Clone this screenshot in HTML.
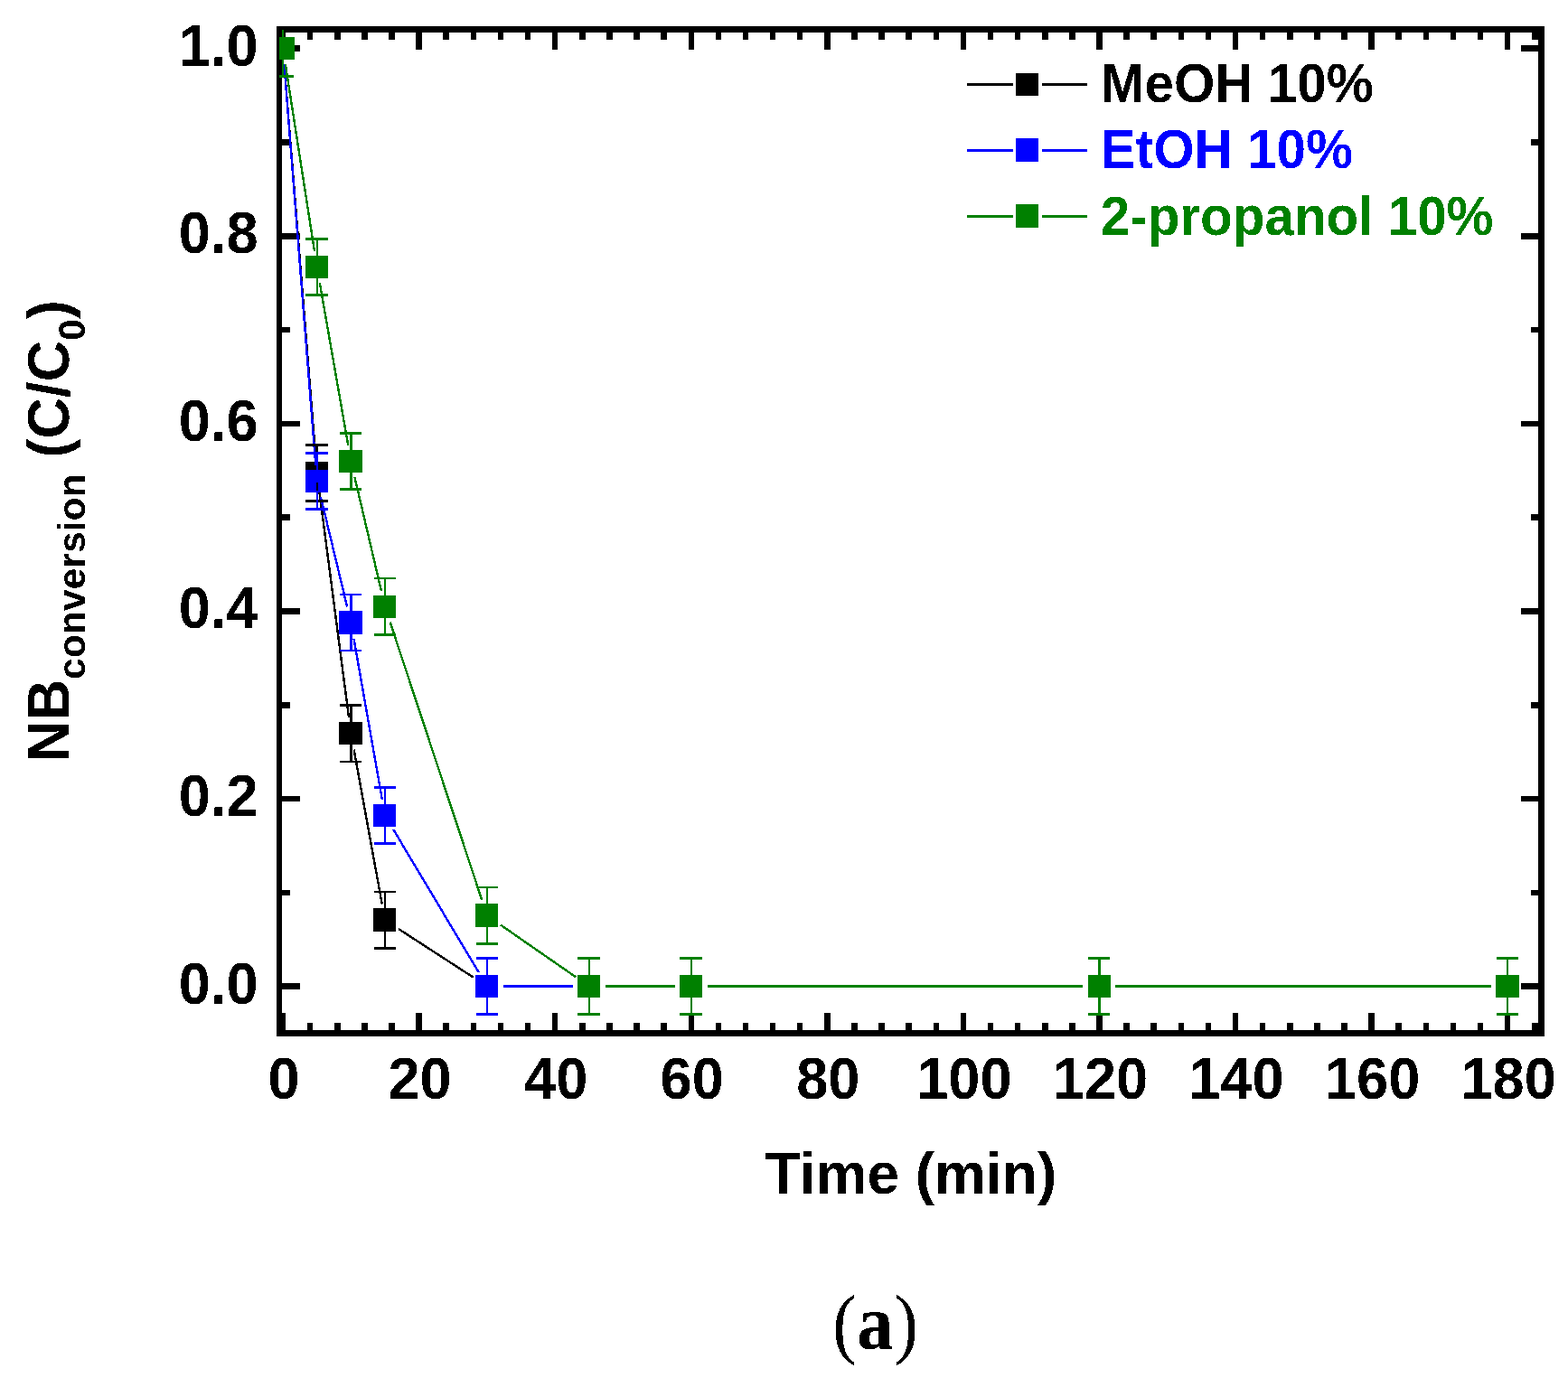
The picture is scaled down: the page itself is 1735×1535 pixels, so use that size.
<!DOCTYPE html>
<html lang="en">
<head>
<meta charset="utf-8">
<title>NB conversion vs time</title>
<style>
html,body{margin:0;padding:0;background:#fff;}
body{width:1735px;height:1535px;overflow:hidden;}
svg{display:block;}
text{white-space:pre;}
</style>
</head>
<body>
<svg width="1735" height="1535" viewBox="0 0 1735 1535">
<rect x="0" y="0" width="1735" height="1535" fill="#ffffff"/>
<g id="axes" shape-rendering="crispEdges">
<rect x="306" y="29" width="6" height="1118" fill="#000"/>
<rect x="1702" y="29" width="7" height="1118" fill="#000"/>
<rect x="306" y="29" width="1403" height="7" fill="#000"/>
<rect x="306" y="1140" width="1403" height="7" fill="#000"/>
<rect x="310" y="1121" width="6" height="19" fill="#000"/>
<rect x="310" y="36" width="6" height="19" fill="#000"/>
<rect x="340" y="1132" width="6" height="8" fill="#000"/>
<rect x="340" y="36" width="6" height="8" fill="#000"/>
<rect x="370" y="1132" width="7" height="8" fill="#000"/>
<rect x="370" y="36" width="7" height="8" fill="#000"/>
<rect x="400" y="1132" width="7" height="8" fill="#000"/>
<rect x="400" y="36" width="7" height="8" fill="#000"/>
<rect x="430" y="1132" width="7" height="8" fill="#000"/>
<rect x="430" y="36" width="7" height="8" fill="#000"/>
<rect x="460" y="1121" width="7" height="19" fill="#000"/>
<rect x="460" y="36" width="7" height="19" fill="#000"/>
<rect x="490" y="1132" width="7" height="8" fill="#000"/>
<rect x="490" y="36" width="7" height="8" fill="#000"/>
<rect x="521" y="1132" width="6" height="8" fill="#000"/>
<rect x="521" y="36" width="6" height="8" fill="#000"/>
<rect x="551" y="1132" width="6" height="8" fill="#000"/>
<rect x="551" y="36" width="6" height="8" fill="#000"/>
<rect x="581" y="1132" width="6" height="8" fill="#000"/>
<rect x="581" y="36" width="6" height="8" fill="#000"/>
<rect x="611" y="1121" width="6" height="19" fill="#000"/>
<rect x="611" y="36" width="6" height="19" fill="#000"/>
<rect x="641" y="1132" width="7" height="8" fill="#000"/>
<rect x="641" y="36" width="7" height="8" fill="#000"/>
<rect x="671" y="1132" width="7" height="8" fill="#000"/>
<rect x="671" y="36" width="7" height="8" fill="#000"/>
<rect x="701" y="1132" width="7" height="8" fill="#000"/>
<rect x="701" y="36" width="7" height="8" fill="#000"/>
<rect x="731" y="1132" width="7" height="8" fill="#000"/>
<rect x="731" y="36" width="7" height="8" fill="#000"/>
<rect x="762" y="1121" width="6" height="19" fill="#000"/>
<rect x="762" y="36" width="6" height="19" fill="#000"/>
<rect x="792" y="1132" width="6" height="8" fill="#000"/>
<rect x="792" y="36" width="6" height="8" fill="#000"/>
<rect x="822" y="1132" width="6" height="8" fill="#000"/>
<rect x="822" y="36" width="6" height="8" fill="#000"/>
<rect x="852" y="1132" width="6" height="8" fill="#000"/>
<rect x="852" y="36" width="6" height="8" fill="#000"/>
<rect x="882" y="1132" width="6" height="8" fill="#000"/>
<rect x="882" y="36" width="6" height="8" fill="#000"/>
<rect x="912" y="1121" width="7" height="19" fill="#000"/>
<rect x="912" y="36" width="7" height="19" fill="#000"/>
<rect x="942" y="1132" width="7" height="8" fill="#000"/>
<rect x="942" y="36" width="7" height="8" fill="#000"/>
<rect x="972" y="1132" width="7" height="8" fill="#000"/>
<rect x="972" y="36" width="7" height="8" fill="#000"/>
<rect x="1002" y="1132" width="7" height="8" fill="#000"/>
<rect x="1002" y="36" width="7" height="8" fill="#000"/>
<rect x="1033" y="1132" width="6" height="8" fill="#000"/>
<rect x="1033" y="36" width="6" height="8" fill="#000"/>
<rect x="1063" y="1121" width="6" height="19" fill="#000"/>
<rect x="1063" y="36" width="6" height="19" fill="#000"/>
<rect x="1093" y="1132" width="6" height="8" fill="#000"/>
<rect x="1093" y="36" width="6" height="8" fill="#000"/>
<rect x="1123" y="1132" width="6" height="8" fill="#000"/>
<rect x="1123" y="36" width="6" height="8" fill="#000"/>
<rect x="1153" y="1132" width="7" height="8" fill="#000"/>
<rect x="1153" y="36" width="7" height="8" fill="#000"/>
<rect x="1183" y="1132" width="7" height="8" fill="#000"/>
<rect x="1183" y="36" width="7" height="8" fill="#000"/>
<rect x="1213" y="1121" width="7" height="19" fill="#000"/>
<rect x="1213" y="36" width="7" height="19" fill="#000"/>
<rect x="1243" y="1132" width="7" height="8" fill="#000"/>
<rect x="1243" y="36" width="7" height="8" fill="#000"/>
<rect x="1273" y="1132" width="7" height="8" fill="#000"/>
<rect x="1273" y="36" width="7" height="8" fill="#000"/>
<rect x="1304" y="1132" width="6" height="8" fill="#000"/>
<rect x="1304" y="36" width="6" height="8" fill="#000"/>
<rect x="1334" y="1132" width="6" height="8" fill="#000"/>
<rect x="1334" y="36" width="6" height="8" fill="#000"/>
<rect x="1364" y="1121" width="6" height="19" fill="#000"/>
<rect x="1364" y="36" width="6" height="19" fill="#000"/>
<rect x="1394" y="1132" width="6" height="8" fill="#000"/>
<rect x="1394" y="36" width="6" height="8" fill="#000"/>
<rect x="1424" y="1132" width="7" height="8" fill="#000"/>
<rect x="1424" y="36" width="7" height="8" fill="#000"/>
<rect x="1454" y="1132" width="7" height="8" fill="#000"/>
<rect x="1454" y="36" width="7" height="8" fill="#000"/>
<rect x="1484" y="1132" width="7" height="8" fill="#000"/>
<rect x="1484" y="36" width="7" height="8" fill="#000"/>
<rect x="1514" y="1121" width="7" height="19" fill="#000"/>
<rect x="1514" y="36" width="7" height="19" fill="#000"/>
<rect x="1544" y="1132" width="7" height="8" fill="#000"/>
<rect x="1544" y="36" width="7" height="8" fill="#000"/>
<rect x="1575" y="1132" width="6" height="8" fill="#000"/>
<rect x="1575" y="36" width="6" height="8" fill="#000"/>
<rect x="1605" y="1132" width="6" height="8" fill="#000"/>
<rect x="1605" y="36" width="6" height="8" fill="#000"/>
<rect x="1635" y="1132" width="6" height="8" fill="#000"/>
<rect x="1635" y="36" width="6" height="8" fill="#000"/>
<rect x="1665" y="1121" width="6" height="19" fill="#000"/>
<rect x="1665" y="36" width="6" height="19" fill="#000"/>
<rect x="1695" y="1132" width="7" height="8" fill="#000"/>
<rect x="1695" y="36" width="7" height="8" fill="#000"/>
<rect x="312" y="1088" width="20" height="7" fill="#000"/>
<rect x="1683" y="1088" width="19" height="7" fill="#000"/>
<rect x="312" y="985" width="9" height="6" fill="#000"/>
<rect x="1694" y="985" width="8" height="6" fill="#000"/>
<rect x="312" y="881" width="20" height="6" fill="#000"/>
<rect x="1683" y="881" width="19" height="6" fill="#000"/>
<rect x="312" y="777" width="9" height="7" fill="#000"/>
<rect x="1694" y="777" width="8" height="7" fill="#000"/>
<rect x="312" y="673" width="20" height="7" fill="#000"/>
<rect x="1683" y="673" width="19" height="7" fill="#000"/>
<rect x="312" y="569" width="9" height="7" fill="#000"/>
<rect x="1694" y="569" width="8" height="7" fill="#000"/>
<rect x="312" y="466" width="20" height="6" fill="#000"/>
<rect x="1683" y="466" width="19" height="6" fill="#000"/>
<rect x="312" y="362" width="9" height="6" fill="#000"/>
<rect x="1694" y="362" width="8" height="6" fill="#000"/>
<rect x="312" y="258" width="20" height="7" fill="#000"/>
<rect x="1683" y="258" width="19" height="7" fill="#000"/>
<rect x="312" y="154" width="9" height="7" fill="#000"/>
<rect x="1694" y="154" width="8" height="7" fill="#000"/>
<rect x="312" y="50" width="20" height="7" fill="#000"/>
<rect x="1683" y="50" width="19" height="7" fill="#000"/>
</g>
<defs><clipPath id="plotclip"><rect x="309" y="33" width="1396.5" height="1110.5"/></clipPath></defs>
<g id="data" clip-path="url(#plotclip)" shape-rendering="crispEdges">
<g stroke="#000000" stroke-width="2.4" fill="none">
<line x1="314.5" y1="71.44" x2="349.27" y2="505.56"/>
<line x1="353.03" y1="541.35" x2="386.01" y2="793.95"/>
<line x1="391.57" y1="829.51" x2="422.76" y2="1000.59"/>
<line x1="441.09" y1="1028.09" x2="523.81" y2="1081.71"/>
</g>
<rect x="300" y="41" width="26" height="25" fill="#000000"/>
<rect x="338" y="511" width="25" height="25" fill="#000000"/>
<rect x="375" y="799" width="26" height="25" fill="#000000"/>
<rect x="413" y="1005" width="25" height="26" fill="#000000"/>
<rect x="526" y="1079" width="25" height="25" fill="#000000"/>
<g stroke="#0000ff" stroke-width="2.4" fill="none">
<line x1="314.47" y1="71.44" x2="349.29" y2="514.56"/>
<line x1="354.91" y1="550" x2="384.14" y2="671.5"/>
<line x1="391.47" y1="706.73" x2="422.86" y2="884.77"/>
<line x1="435.22" y1="917.95" x2="529.68" y2="1076.05"/>
<line x1="556.91" y1="1091.5" x2="633.84" y2="1091.5"/>
</g>
<rect x="300" y="41" width="26" height="25" fill="#0000ff"/>
<rect x="338" y="520" width="25" height="25" fill="#0000ff"/>
<rect x="375" y="676" width="26" height="26" fill="#0000ff"/>
<rect x="413" y="890" width="25" height="25" fill="#0000ff"/>
<rect x="526" y="1079" width="25" height="25" fill="#0000ff"/>
<rect x="639" y="1079" width="25" height="25" fill="#0000ff"/>
<g stroke="#008000" stroke-width="2.4" fill="none">
<line x1="315.83" y1="71.29" x2="347.94" y2="277.71"/>
<line x1="353.81" y1="313.23" x2="385.24" y2="492.77"/>
<line x1="392.45" y1="528.03" x2="421.89" y2="653.87"/>
<line x1="431.63" y1="688.49" x2="533.27" y2="996.11"/>
<line x1="553.71" y1="1023.46" x2="637.05" y2="1081.24"/>
<line x1="669.84" y1="1091.5" x2="746.77" y2="1091.5"/>
<line x1="782.77" y1="1091.5" x2="1198.48" y2="1091.5"/>
<line x1="1234.48" y1="1091.5" x2="1650.19" y2="1091.5"/>
</g>
<rect x="300" y="41" width="26" height="25" fill="#008000"/>
<rect x="338" y="283" width="25" height="25" fill="#008000"/>
<rect x="375" y="498" width="26" height="25" fill="#008000"/>
<rect x="413" y="659" width="25" height="25" fill="#008000"/>
<rect x="526" y="1000" width="25" height="26" fill="#008000"/>
<rect x="639" y="1079" width="25" height="25" fill="#008000"/>
<rect x="752" y="1079" width="25" height="25" fill="#008000"/>
<rect x="1204" y="1079" width="25" height="25" fill="#008000"/>
<rect x="1655" y="1079" width="26" height="25" fill="#008000"/>
<rect x="312" y="21" width="2" height="22" fill="#000000"/>
<rect x="312" y="64" width="2" height="22" fill="#000000"/>
<rect x="301" y="21" width="24" height="3" fill="#000000"/>
<rect x="301" y="83" width="24" height="3" fill="#000000"/>
<rect x="350" y="491" width="2" height="22" fill="#000000"/>
<rect x="350" y="534" width="2" height="22" fill="#000000"/>
<rect x="338" y="491" width="25" height="3" fill="#000000"/>
<rect x="338" y="553" width="25" height="3" fill="#000000"/>
<rect x="387" y="779" width="3" height="22" fill="#000000"/>
<rect x="387" y="822" width="3" height="22" fill="#000000"/>
<rect x="376" y="779" width="24" height="3" fill="#000000"/>
<rect x="376" y="842" width="24" height="2" fill="#000000"/>
<rect x="425" y="986" width="2" height="22" fill="#000000"/>
<rect x="425" y="1029" width="2" height="22" fill="#000000"/>
<rect x="414" y="986" width="24" height="2" fill="#000000"/>
<rect x="414" y="1048" width="24" height="3" fill="#000000"/>
<rect x="538" y="1059" width="2" height="22" fill="#000000"/>
<rect x="538" y="1102" width="2" height="22" fill="#000000"/>
<rect x="527" y="1059" width="24" height="3" fill="#000000"/>
<rect x="527" y="1121" width="24" height="3" fill="#000000"/>
<rect x="312" y="21" width="2" height="22" fill="#0000ff"/>
<rect x="312" y="64" width="2" height="22" fill="#0000ff"/>
<rect x="301" y="21" width="24" height="3" fill="#0000ff"/>
<rect x="301" y="83" width="24" height="3" fill="#0000ff"/>
<rect x="350" y="500" width="2" height="22" fill="#0000ff"/>
<rect x="350" y="543" width="2" height="22" fill="#0000ff"/>
<rect x="338" y="500" width="25" height="3" fill="#0000ff"/>
<rect x="338" y="562" width="25" height="3" fill="#0000ff"/>
<rect x="387" y="657" width="3" height="22" fill="#0000ff"/>
<rect x="387" y="700" width="3" height="21" fill="#0000ff"/>
<rect x="376" y="657" width="24" height="2" fill="#0000ff"/>
<rect x="376" y="719" width="24" height="2" fill="#0000ff"/>
<rect x="425" y="870" width="2" height="22" fill="#0000ff"/>
<rect x="425" y="913" width="2" height="22" fill="#0000ff"/>
<rect x="414" y="870" width="24" height="3" fill="#0000ff"/>
<rect x="414" y="932" width="24" height="3" fill="#0000ff"/>
<rect x="538" y="1059" width="2" height="22" fill="#0000ff"/>
<rect x="538" y="1102" width="2" height="22" fill="#0000ff"/>
<rect x="527" y="1059" width="24" height="3" fill="#0000ff"/>
<rect x="527" y="1121" width="24" height="3" fill="#0000ff"/>
<rect x="651" y="1059" width="2" height="22" fill="#0000ff"/>
<rect x="651" y="1102" width="2" height="22" fill="#0000ff"/>
<rect x="639" y="1059" width="25" height="3" fill="#0000ff"/>
<rect x="639" y="1121" width="25" height="3" fill="#0000ff"/>
<rect x="312" y="21" width="2" height="22" fill="#008000"/>
<rect x="312" y="64" width="2" height="22" fill="#008000"/>
<rect x="301" y="21" width="24" height="3" fill="#008000"/>
<rect x="301" y="83" width="24" height="3" fill="#008000"/>
<rect x="350" y="263" width="2" height="22" fill="#008000"/>
<rect x="350" y="306" width="2" height="22" fill="#008000"/>
<rect x="338" y="263" width="25" height="3" fill="#008000"/>
<rect x="338" y="325" width="25" height="3" fill="#008000"/>
<rect x="387" y="478" width="3" height="22" fill="#008000"/>
<rect x="387" y="521" width="3" height="22" fill="#008000"/>
<rect x="376" y="478" width="24" height="3" fill="#008000"/>
<rect x="376" y="540" width="24" height="3" fill="#008000"/>
<rect x="425" y="639" width="2" height="22" fill="#008000"/>
<rect x="425" y="682" width="2" height="22" fill="#008000"/>
<rect x="414" y="639" width="24" height="2" fill="#008000"/>
<rect x="414" y="701" width="24" height="3" fill="#008000"/>
<rect x="538" y="981" width="2" height="22" fill="#008000"/>
<rect x="538" y="1024" width="2" height="22" fill="#008000"/>
<rect x="527" y="981" width="24" height="2" fill="#008000"/>
<rect x="527" y="1043" width="24" height="3" fill="#008000"/>
<rect x="651" y="1059" width="2" height="22" fill="#008000"/>
<rect x="651" y="1102" width="2" height="22" fill="#008000"/>
<rect x="639" y="1059" width="25" height="3" fill="#008000"/>
<rect x="639" y="1121" width="25" height="3" fill="#008000"/>
<rect x="764" y="1059" width="2" height="22" fill="#008000"/>
<rect x="764" y="1102" width="2" height="22" fill="#008000"/>
<rect x="752" y="1059" width="25" height="3" fill="#008000"/>
<rect x="752" y="1121" width="25" height="3" fill="#008000"/>
<rect x="1215" y="1059" width="3" height="22" fill="#008000"/>
<rect x="1215" y="1102" width="3" height="22" fill="#008000"/>
<rect x="1204" y="1059" width="24" height="3" fill="#008000"/>
<rect x="1204" y="1121" width="24" height="3" fill="#008000"/>
<rect x="1667" y="1059" width="2" height="22" fill="#008000"/>
<rect x="1667" y="1102" width="2" height="22" fill="#008000"/>
<rect x="1656" y="1059" width="24" height="3" fill="#008000"/>
<rect x="1656" y="1121" width="24" height="3" fill="#008000"/>
</g>
<g id="legend" shape-rendering="crispEdges">
<rect x="1070" y="92" width="51" height="3" fill="#000000"/>
<rect x="1153" y="92" width="50" height="3" fill="#000000"/>
<rect x="1124" y="81" width="25" height="25" fill="#000000"/>
<rect x="1070" y="165" width="51" height="3" fill="#0000ff"/>
<rect x="1153" y="165" width="50" height="3" fill="#0000ff"/>
<rect x="1124" y="153" width="25" height="26" fill="#0000ff"/>
<rect x="1070" y="238" width="51" height="3" fill="#008000"/>
<rect x="1153" y="238" width="50" height="3" fill="#008000"/>
<rect x="1124" y="226" width="25" height="26" fill="#008000"/>
</g>
<defs><filter id="bin" x="-5%" y="-20%" width="110%" height="140%" color-interpolation-filters="sRGB"><feComponentTransfer><feFuncA type="discrete" tableValues="0 1"/></feComponentTransfer></filter></defs>
<g id="text" font-family="'Liberation Sans', Arial, Helvetica, sans-serif" font-weight="bold">
<text transform="translate(1217.8 113) scale(1.0000 1.0400)" font-size="58.4" text-anchor="start" fill="#000000" filter="url(#bin)">MeOH 10%</text>
<text transform="translate(1217.8 186.3) scale(1.0000 1.0400)" font-size="58.4" text-anchor="start" fill="#0000ff" filter="url(#bin)">EtOH 10%</text>
<text transform="translate(1217.8 259.6) scale(1.0000 1.0400)" font-size="58.4" text-anchor="start" fill="#008000" filter="url(#bin)">2-propanol 10%</text>
<text transform="translate(314.06 1216.3) scale(1.0000 1.0350)" font-size="63.2" text-anchor="middle" fill="#000" filter="url(#bin)">0</text>
<text transform="translate(464.63 1216.3) scale(1.0000 1.0350)" font-size="63.2" text-anchor="middle" fill="#000" filter="url(#bin)">20</text>
<text transform="translate(615.2 1216.3) scale(1.0000 1.0350)" font-size="63.2" text-anchor="middle" fill="#000" filter="url(#bin)">40</text>
<text transform="translate(765.77 1216.3) scale(1.0000 1.0350)" font-size="63.2" text-anchor="middle" fill="#000" filter="url(#bin)">60</text>
<text transform="translate(916.34 1216.3) scale(1.0000 1.0350)" font-size="63.2" text-anchor="middle" fill="#000" filter="url(#bin)">80</text>
<text transform="translate(1066.91 1216.3) scale(1.0000 1.0350)" font-size="63.2" text-anchor="middle" fill="#000" filter="url(#bin)">100</text>
<text transform="translate(1217.48 1216.3) scale(1.0000 1.0350)" font-size="63.2" text-anchor="middle" fill="#000" filter="url(#bin)">120</text>
<text transform="translate(1368.05 1216.3) scale(1.0000 1.0350)" font-size="63.2" text-anchor="middle" fill="#000" filter="url(#bin)">140</text>
<text transform="translate(1518.62 1216.3) scale(1.0000 1.0350)" font-size="63.2" text-anchor="middle" fill="#000" filter="url(#bin)">160</text>
<text transform="translate(1669.19 1216.3) scale(1.0000 1.0350)" font-size="63.2" text-anchor="middle" fill="#000" filter="url(#bin)">180</text>
<text transform="translate(285.6 1110.6) scale(1.0000 1.0350)" font-size="63.2" text-anchor="end" fill="#000" filter="url(#bin)">0.0</text>
<text transform="translate(285.6 903) scale(1.0000 1.0350)" font-size="63.2" text-anchor="end" fill="#000" filter="url(#bin)">0.2</text>
<text transform="translate(285.6 695.4) scale(1.0000 1.0350)" font-size="63.2" text-anchor="end" fill="#000" filter="url(#bin)">0.4</text>
<text transform="translate(285.6 487.8) scale(1.0000 1.0350)" font-size="63.2" text-anchor="end" fill="#000" filter="url(#bin)">0.6</text>
<text transform="translate(285.6 280.2) scale(1.0000 1.0350)" font-size="63.2" text-anchor="end" fill="#000" filter="url(#bin)">0.8</text>
<text transform="translate(285.6 72.6) scale(1.0000 1.0350)" font-size="63.2" text-anchor="end" fill="#000" filter="url(#bin)">1.0</text>
<text transform="translate(1008 1321.2)" font-size="64" text-anchor="middle" fill="#000" filter="url(#bin)">Time (min)</text>
<text transform="translate(76.2 843.2) rotate(-90) scale(0.9875 1.0000)" font-size="64" text-anchor="start" fill="#000" filter="url(#bin)">NB<tspan font-size="43.2" dy="18.2">conversion</tspan><tspan dy="-18.2"> (C/C</tspan><tspan font-size="43.2" dy="18.2">0</tspan><tspan dy="-18.2">)</tspan></text>
</g>
<text id="caption" transform="translate(921.27 1493.1) scale(0.93 1)" font-family="'Liberation Serif', 'Times New Roman', Times, serif" font-size="86.5" fill="#000" filter="url(#bin)"><tspan x="0">(</tspan><tspan x="29.08" font-weight="bold">a</tspan><tspan x="73.06">)</tspan></text>
</svg>
</body>
</html>
